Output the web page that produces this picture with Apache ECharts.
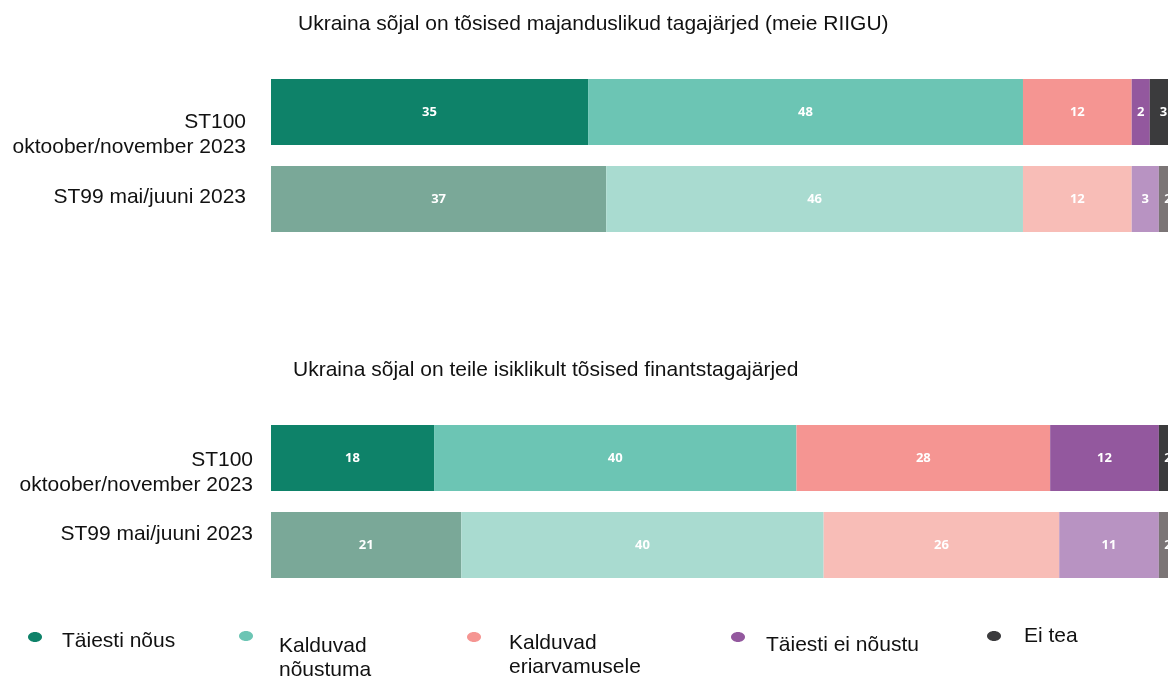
<!DOCTYPE html>
<html>
<head>
<meta charset="utf-8">
<script src="https://cdn.jsdelivr.net/npm/echarts@6/dist/echarts.min.js"></script>
<style>
  html, body { margin: 0; padding: 0; background: #fff; }
  #chart { width: 1168px; height: 677px; }
</style>
</head>
<body>
<div id="chart"></div>
<script>
// kategooriad (ridade nimed)
const categories = ['ST100\noktoober/november 2023', 'ST99 mai/juuni 2023'];
const titles = [
  'Ukraina sõjal on tõsised majanduslikud tagajärjed (meie RIIGU)',
  'Ukraina sõjal on teile isiklikult tõsised finantstagajärjed'
];
const answerNames = ['Täiesti nõus', 'Kalduvad nõustuma', 'Kalduvad eriarvamusele', 'Täiesti ei nõustu', 'Ei tea'];
const legendLabels = ['Täiesti nõus', 'Kalduvad\nnõustuma', 'Kalduvad\neriarvamusele', 'Täiesti ei nõustu', 'Ei tea'];

// majanduslikud tagajärjed riigile: [ST100, ST99]
const riikNous = [35, 37];
const riikKaldNous = [48, 46];
const riikKaldEri = [12, 12];
const riikEiNous = [2, 3];
const riikEiTea = [3, 2];

// isiklikud finantstagajärjed: [ST100, ST99]
const isikNous = [18, 21];
const isikKaldNous = [40, 40];
const isikKaldEri = [28, 26];
const isikEiNous = [12, 11];
const isikEiTea = [2, 2];

const darkColors = ['#0e8269', '#6cc5b4', '#f59592', '#93589e', '#3b3b3d'];
const lightColors = ['#7aa898', '#a9dbd0', '#f8bdb7', '#b893c2', '#7b7576'];

const blocks = [
  [riikNous, riikKaldNous, riikKaldEri, riikEiNous, riikEiTea],
  [isikNous, isikKaldNous, isikKaldEri, isikEiNous, isikEiTea]
];

// paigutus
const gridTops = [68.5, 414.5];
const labelMargins = [25, 18];
// vahe rea kohal (esimene rida) ja all (teine rida)
const labelGaps = [[45, 4], [29, 22]];
const titlePos = [[293, 9], [288, 355]];
const legendPos = [
  { icon: [35, 637], text: [62, 641] },
  { icon: [246, 636], text: [279, 658] },
  { icon: [474, 637], text: [509, 655] },
  { icon: [738, 637], text: [766, 645] },
  { icon: [994, 636], text: [1024, 636] }
];

const font = 'Liberation Sans, Arial, sans-serif';

const myChart = echarts.init(document.getElementById('chart'));

const series = [];
blocks.forEach((block, b) => {
  block.forEach((vals, i) => {
    series.push({
      name: answerNames[i],
      type: 'bar',
      stack: 'blk' + b,
      xAxisIndex: b,
      yAxisIndex: b,
      barWidth: 66,
      data: vals.map((v, r) => ({
        value: v,
        itemStyle: { color: r === 0 ? darkColors[i] : lightColors[i] }
      })),
      label: {
        show: true,
        position: 'inside',
        color: '#fff',
        fontSize: 13,
        fontWeight: 'bold',
        fontFamily: 'Open Sans, sans-serif'
      },
      emphasis: { disabled: true }
    });
  });
});

const graphic = [];
legendPos.forEach((p, i) => {
  graphic.push({
    type: 'ellipse',
    shape: { cx: p.icon[0], cy: p.icon[1], rx: 7, ry: 5 },
    style: { fill: darkColors[i] }
  });
  graphic.push({
    type: 'text',
    x: p.text[0],
    y: p.text[1],
    style: {
      text: legendLabels[i],
      font: '21px ' + font,
      fill: '#111',
      verticalAlign: 'middle',
      lineHeight: 24
    }
  });
});

const option = {
  animation: false,
  title: titles.map((t, i) => ({
    text: t,
    left: titlePos[i][0],
    top: titlePos[i][1],
    textStyle: { fontSize: 21, fontWeight: 'normal', color: '#111', fontFamily: font }
  })),
  grid: gridTops.map(t => ({ left: 271, top: t, width: 906, height: 174, outerBoundsMode: 'none' })),
  xAxis: gridTops.map((t, i) => ({
    type: 'value',
    gridIndex: i,
    min: 0,
    max: 100,
    show: false
  })),
  yAxis: gridTops.map((t, i) => ({
    type: 'category',
    gridIndex: i,
    inverse: true,
    data: categories,
    axisLine: { show: false },
    axisTick: { show: false },
    axisLabel: {
      margin: labelMargins[i],
      align: 'right',
      formatter: (value, idx) => {
        const lines = value.split('\n').map(s => '{t|' + s + '}').join('\n');
        return idx === 0 ? '{ga| }\n' + lines : lines + '\n{gb| }';
      },
      rich: {
        t: { fontSize: 21, lineHeight: 25, color: '#111', fontFamily: font },
        ga: { fontSize: 1, lineHeight: labelGaps[i][0] },
        gb: { fontSize: 1, lineHeight: labelGaps[i][1] }
      }
    }
  })),
  series: series,
  graphic: graphic
};

myChart.setOption(option);
</script>
</body>
</html>
